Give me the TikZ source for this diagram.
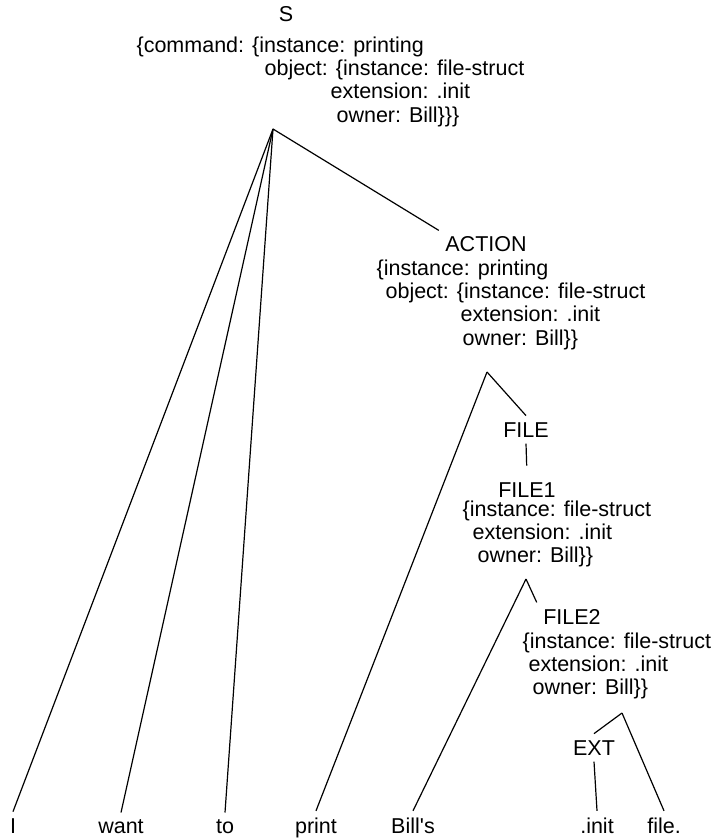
\documentclass[tikz,border=0pt]{standalone}
\usepackage{fontspec}
\setmainfont{Liberation Sans}[Ligatures=TeXOff]
\begin{document}
\begin{tikzpicture}[x=0.5pt, y=-0.5pt, line width=0.6pt,
  every node/.style={font=\fontsize{10.75}{11.7}\selectfont},
  cat/.style={anchor=base, inner sep=3pt},
  feat/.style={anchor=north west, align=left, inner sep=0pt},
  word/.style={anchor=base, inner sep=3pt}]
\useasboundingbox (0,0) rectangle (713,839);
% categories and their feature structures
\node[cat] (s) at (286,22) {S};
\node[feat] (sfeat) at (136,36) {\{command: \{instance: printing\\
  \hspace*{64pt}object: \{instance: file-struct\\
  \hspace*{97pt}extension: .init\\
  \hspace*{100pt}owner: Bill\}\}\}};
\node[cat] (action) at (486,252) {ACTION};
\node[feat] (actfeat) at (376,259) {\{instance: printing\\
  \hspace*{4.5pt}object: \{instance: file-struct\\
  \hspace*{42pt}extension: .init\\
  \hspace*{43pt}owner: Bill\}\}};
\node[cat] (file) at (526,437) {FILE};
\node[cat] (file1) at (527,497) {FILE1};
\node[feat] (f1feat) at (462,500) {\{instance: file-struct\\
  \hspace*{5pt}extension: .init\\
  \hspace*{7.5pt}owner: Bill\}\}};
\node[cat] (file2) at (572,624) {FILE2};
\node[feat] (f2feat) at (522,632) {\{instance: file-struct\\
  \hspace*{3pt}extension: .init\\
  \hspace*{5pt}owner: Bill\}\}};
\node[cat] (ext) at (594,755) {EXT};
% the words
\node[word] (w1) at (13,833) {I};
\node[word] (w2) at (121,833) {want};
\node[word] (w3) at (225,833) {to};
\node[word] (w4) at (316,833) {print};
\node[word] (w5) at (413,833) {Bill's};
\node[word] (w6) at (597,833) {.init};
\node[word] (w7) at (664,833) {file.};
% branching points
\coordinate (sroot) at (273,129);
\coordinate (aroot) at (487,372);
\coordinate (f1root) at (526,579);
\coordinate (f2root) at (622,713);
\draw (sroot) -- (w1.north);
\draw (sroot) -- (w2.north);
\draw (sroot) -- (w3.north);
\draw (sroot) -- (action.north west);
\draw (aroot) -- (w4.north);
\draw (aroot) -- (file.north);
\draw[shorten >=5pt] (file.south) -- (file1.north);
\draw (f1root) -- (w5.north);
\draw (f1root) -- (file2.north west);
\draw (f2root) -- (ext.north);
\draw (ext.south) -- (w6.north);
\draw (f2root) -- (w7.north);
\end{tikzpicture}
\end{document}
